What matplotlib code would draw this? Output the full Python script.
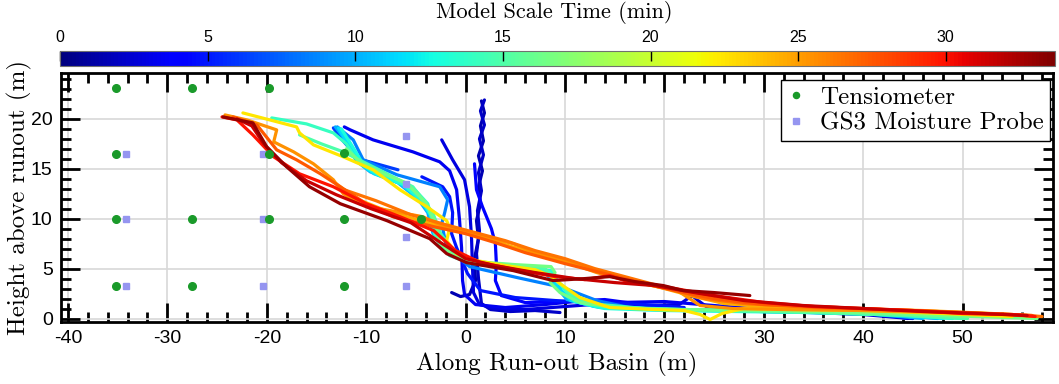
import numpy as np
import matplotlib
matplotlib.use("Agg")
import matplotlib.pyplot as plt
from matplotlib import colors, cm
from matplotlib.ticker import MultipleLocator

plt.rcParams['font.family'] = ['Liberation Sans', 'DejaVu Sans']
plt.rcParams['axes.unicode_minus'] = False

# surface profiles: time (min), x (m), height (m)
prof_time = [1.5, 2.2, 2.8, 3.4, 4.0, 5.0, 6.2, 8.5, 10.0, 11.5, 13.0, 14.0, 15.0, 16.5,
             22.5, 24.5, 25.5, 26.5, 27.5, 30.0, 31.5, 33.0]
prof_x = [
    [1.6, 1.9, 1.5, 1.8, 1.3, 1.7, 1.3, 1.5, 1.1, 1.3, 0.9, 1.0, 0.4, -0.5, -1.4],
    [1.9, 1.5, 1.9, 1.4, 1.8, 1.3, 1.6, 1.2, 1.4, 1.1, 1.3, 1.6, 2.5, 4.5, 7.0, 9.5],
    [-2.4, -1.3, -0.1, 0.4, 0.6, 0.7, 0.8, 1.4, 3.0, 6.0, 10.0, 14.0, 18.0, 21.5, 22.8, 23.4, 24.5, 27.0, 30.0, 35.0, 40.0, 43.5, 45.0],
    [-12.2, -11.6, -9.3, -5.3, -2.6, -1.6, -0.9, -0.6, -0.4, -0.3, -0.1, 1.0, 4.0, 8.0, 12.0, 15.0, 20.0, 25.0, 30.0, 36.0, 42.0, 44.5],
    [0.9, 1.1, 1.7, 2.6, 3.0, 3.1, 3.0, 3.6, 6.0, 10.0, 14.0, 17.0],
    [-4.4, -2.3, -1.6, -1.3, -1.4, -0.9, 0.2, 1.5, 5.0, 9.0, 13.0, 18.0, 22.0],
    [-13.3, -12.5, -11.0, -10.4, -6.8],
    [-12.9, -11.3, -10.3, -6.9, -2.6, -1.8, -2.1, -2.4, -1.9, 0.4, 5.2, 9.8, 13.2, 16.5, 22.0, 30.0, 38.0, 45.0, 47.5],
    [-13.1, -12.4, -11.0, -9.6, -6.8, -4.8, -3.8, -3.3, -2.2, 0.0, 4.8, 8.0, 8.6, 10.2, 13.0, 18.0, 25.0, 32.0, 40.0, 46.0],
    [-12.8, -12.0, -10.6, -9.2, -6.5, -4.5, -3.5, -3.1, -1.9, 0.3, 5.0, 8.3, 8.9, 10.6, 13.5, 19.0, 26.0, 34.0, 42.0, 48.0],
    [-12.5, -11.6, -10.2, -8.8, -6.2, -4.2, -3.3, -2.9, -1.6, 0.6, 5.4, 8.6, 9.2, 11.0, 14.0, 20.0, 27.0, 35.0, 43.0, 49.0],
    [-19.5, -16.0, -13.3, -12.0, -11.0, -9.5, -7.0, -5.0, -3.8, -3.4, -3.0, -1.5, 1.0, 5.0, 8.0, 9.0, 11.0, 14.0, 20.0, 28.0, 36.0, 44.0, 50.0],
    [-16.7, -14.5, -12.3, -9.3, -5.3, -3.3, -2.5, -1.0, 1.5, 5.0, 8.0, 9.0, 10.5, 12.5, 18.0, 25.0, 35.0, 45.0, 50.5],
    [-12.0, -10.5, -8.5, -6.0, -4.0, -3.0, -2.6, -1.2, 1.0, 5.0, 8.6, 9.0, 8.5, 9.5, 11.5, 15.0, 22.0, 30.0, 40.0, 48.0, 57.5],
    [-22.4, -17.0, -16.7, -15.3, -12.3, -9.3, -6.6, -3.9, -1.9, -1.6, -1.9, -0.9, 1.1, 4.0, 7.0, 8.5, 9.5, 11.5, 14.5, 19.0, 22.0, 23.6, 24.6, 25.8, 28.0, 33.0, 40.0, 48.0, 55.0],
    [-13.0, -11.0, -8.0, -4.5, 0.0, 4.0, 8.0, 12.0, 16.0, 20.0, 23.0, 26.0, 30.0, 38.0, 46.0, 53.0, 57.0],
    [-24.2, -22.0, -19.0, -19.3, -17.3, -15.3, -13.3, -12.3, -10.6, -8.6, -4.3, -1.9, 1.4, 4.8, 6.5, 9.8, 13.2, 17.2, 21.3, 23.6, 26.9, 32.0, 40.0, 48.0, 54.0, 57.5],
    [-12.5, -9.0, -5.5, -2.0, 1.0, 4.0, 7.0, 10.0, 13.0, 16.0, 19.0, 21.5, 24.0, 28.0, 35.0, 45.0, 55.0, 58.0],
    [-23.4, -21.0, -19.0, -17.0, -14.6, -12.6, -10.0, -7.3, -3.2, 0.0, 3.0, 6.0, 10.0, 14.0, 18.0, 21.0, 25.0, 30.0, 40.0, 50.0, 57.0],
    [-24.5, -23.0, -21.4, -19.3, -16.7, -13.3, -10.0, -6.6, -3.2, -1.0, 1.5, 5.0, 9.0, 12.0, 14.5, 16.0, 20.0, 25.0, 30.0, 35.0, 40.0, 45.0, 50.0, 55.0, 57.3],
    [-23.0, -21.5, -20.3, -18.5, -16.0, -13.0, -9.5, -5.5, -2.5, 0.0, 3.0, 7.0, 11.0, 15.0, 19.0, 23.0, 28.0, 34.0, 40.0, 46.0, 52.0, 56.5],
    [-24.4, -21.4, -20.0, -18.0, -15.7, -12.6, -7.9, -3.6, -1.9, 0.1, 4.8, 8.8, 12.0, 14.5, 17.0, 19.9, 21.9, 25.0, 28.6],
]
prof_y = [
    [21.8, 20.6, 19.3, 17.8, 16.3, 14.8, 13.2, 11.5, 9.8, 8.0, 6.0, 3.8, 2.4, 2.2, 2.6],
    [21.9, 20.8, 19.4, 18.0, 16.4, 14.6, 12.8, 10.8, 8.8, 6.5, 4.0, 1.5, 0.9, 0.7, 0.8, 0.6],
    [17.9, 15.9, 13.9, 11.2, 8.1, 5.1, 2.6, 1.4, 1.0, 0.9, 1.2, 1.5, 1.3, 1.4, 2.3, 1.8, 1.0, 0.8, 0.7, 0.6, 0.4, 0.1, 0.0],
    [19.2, 18.9, 17.9, 16.7, 15.7, 14.8, 12.9, 9.8, 7.1, 3.8, 2.4, 1.4, 1.1, 1.4, 1.8, 1.6, 1.7, 1.3, 0.9, 0.7, 0.4, 0.0],
    [15.5, 12.9, 11.2, 9.0, 7.5, 5.5, 3.8, 2.3, 1.6, 1.7, 1.9, 1.5],
    [14.2, 13.2, 12.2, 10.6, 8.5, 7.1, 4.5, 2.8, 2.1, 1.8, 1.6, 1.4, 1.1],
    [19.1, 18.0, 16.3, 15.9, 14.9],
    [19.2, 17.9, 15.9, 14.4, 13.2, 11.9, 10.6, 9.5, 7.1, 5.2, 4.1, 3.1, 1.8, 1.1, 0.9, 0.8, 0.6, 0.2, 0.0],
    [19.2, 18.3, 15.8, 14.7, 13.6, 12.0, 10.6, 8.6, 6.9, 5.8, 5.0, 4.7, 3.8, 1.9, 1.2, 0.9, 0.8, 0.7, 0.5, 0.0],
    [19.1, 17.8, 15.5, 14.5, 13.5, 11.8, 10.3, 8.2, 6.6, 5.6, 4.9, 4.6, 3.6, 1.8, 1.1, 0.9, 0.8, 0.6, 0.4, 0.0],
    [19.0, 17.6, 15.3, 14.4, 13.4, 11.6, 10.0, 7.9, 6.3, 5.5, 5.0, 4.8, 3.8, 1.7, 1.0, 0.8, 0.7, 0.6, 0.4, 0.0],
    [20.1, 19.5, 18.6, 17.5, 16.0, 15.0, 14.0, 12.8, 11.5, 10.0, 8.0, 6.5, 5.6, 5.0, 4.8, 4.0, 2.0, 1.2, 0.9, 0.8, 0.6, 0.3, 0.0],
    [18.4, 17.5, 16.7, 15.2, 13.2, 10.6, 8.5, 6.5, 5.6, 5.2, 5.0, 4.0, 2.5, 1.5, 1.0, 0.8, 0.6, 0.3, 0.0],
    [17.0, 15.6, 14.6, 13.6, 11.6, 9.5, 7.6, 6.3, 5.7, 5.4, 5.2, 4.6, 3.6, 2.6, 1.6, 1.1, 0.9, 0.8, 0.6, 0.3, 0.0],
    [20.6, 19.2, 18.6, 17.4, 16.2, 14.9, 12.9, 11.2, 9.8, 9.1, 7.8, 6.5, 5.8, 5.3, 4.9, 4.3, 3.5, 2.1, 1.1, 0.9, 0.8, 0.4, -0.1, 0.5, 1.0, 0.9, 0.8, 0.5, 0.2],
    [13.5, 12.0, 10.8, 9.8, 8.6, 7.4, 6.2, 5.2, 4.0, 3.0, 2.2, 1.5, 1.2, 1.0, 0.8, 0.5, 0.3],
    [20.4, 19.9, 18.9, 17.7, 16.7, 15.5, 13.9, 12.5, 11.5, 11.0, 10.2, 9.1, 8.3, 7.5, 6.8, 5.8, 4.6, 3.6, 2.8, 1.3, 1.0, 0.9, 0.8, 0.6, 0.4, 0.2],
    [13.0, 11.8, 10.4, 9.4, 8.6, 7.8, 6.8, 6.0, 5.0, 4.2, 3.4, 2.7, 2.0, 1.5, 1.1, 0.8, 0.4, 0.2],
    [20.2, 19.4, 16.9, 15.9, 14.5, 13.2, 11.5, 10.2, 9.2, 8.5, 7.6, 6.6, 5.5, 4.5, 3.5, 2.8, 2.0, 1.4, 1.0, 0.6, 0.3],
    [20.2, 19.9, 18.4, 16.2, 14.5, 13.2, 11.5, 10.2, 8.8, 6.8, 5.6, 4.9, 4.2, 3.9, 4.3, 3.8, 3.2, 2.3, 1.6, 1.2, 1.0, 0.8, 0.5, 0.4, 0.2],
    [20.0, 19.3, 17.5, 15.6, 13.8, 12.4, 11.0, 9.6, 7.6, 6.0, 5.3, 4.6, 4.0, 3.6, 3.3, 2.6, 1.8, 1.3, 1.0, 0.7, 0.5, 0.3],
    [20.2, 19.6, 17.2, 15.2, 13.2, 11.5, 9.8, 8.0, 6.5, 5.6, 4.8, 3.8, 4.0, 4.2, 3.7, 3.3, 2.8, 2.6, 2.3],
]

# sensor locations
tens_x = [-35.2, -27.5, -19.8, -35.2, -19.8, -12.2, -35.2, -27.5, -19.8, -12.2, -4.5, -35.2, -27.5, -12.2]
tens_y = [23.1, 23.1, 23.1, 16.5, 16.5, 16.6, 10.0, 10.0, 10.0, 10.0, 10.0, 3.3, 3.3, 3.3]
gs3_x = [-34.2, -34.2, -34.2, -20.4, -20.4, -20.4, -6.0, -6.0, -6.0, -6.0]
gs3_y = [16.5, 10.0, 3.3, 16.5, 10.0, 3.3, 18.3, 13.5, 8.2, 3.3]

t_max = 33.7
cmap = plt.get_cmap('jet')
norm = colors.Normalize(vmin=0, vmax=t_max)

fig = plt.figure(figsize=(10.59, 3.84), dpi=100)
ax = fig.add_axes([61/1059, 1 - 322/384, (1053 - 61)/1059, (322 - 73)/384])
cax = fig.add_axes([60/1059, 1 - 66/384, (1055 - 60)/1059, 15/384])

for t, xs, ys in zip(prof_time, prof_x, prof_y):
    ax.plot(xs, ys, color=cmap(norm(t)), lw=2.3, solid_capstyle='round', zorder=2)

ax.plot(tens_x, tens_y, 'o', color='#1a9a2a', ms=5.5, ls='none', label='Tensiometer', zorder=4)
ax.plot(gs3_x, gs3_y, 's', color='#9595f0', ms=5, ls='none', label='GS3 Moisture Probe', zorder=3)

ax.set_xlim(-40.7, 59.1)
ax.set_ylim(-0.35, 24.6)
ax.xaxis.set_major_locator(MultipleLocator(10))
ax.xaxis.set_minor_locator(MultipleLocator(2))
ax.yaxis.set_major_locator(MultipleLocator(5))
ax.yaxis.set_minor_locator(MultipleLocator(1))
ax.tick_params(which='both', direction='in', top=True, right=True, width=2, labelsize=14, pad=6)
ax.tick_params(which='major', length=14)
ax.tick_params(which='minor', length=7)
for s in ax.spines.values():
    s.set_linewidth(2)
ax.grid(True, which='major', color='#d8d8d8', lw=1.2)
ax.set_axisbelow(True)

ax.set_xlabel('Along Run-out Basin (m)', family='cmr10', fontsize=18, labelpad=3)
ax.set_ylabel('Height above runout (m)', family='cmr10', fontsize=18, labelpad=-1)

leg = ax.legend(loc='upper right', bbox_to_anchor=(1050/1059, 1 - 80/384),
                bbox_transform=fig.transFigure, borderaxespad=0,
                prop={'family': 'cmr10', 'size': 18}, fancybox=False,
                framealpha=1, edgecolor='black', handlelength=0.7,
                handletextpad=0.6, labelspacing=0.15, borderpad=0.25, markerscale=0.8)
leg.get_frame().set_linewidth(1)

sm = cm.ScalarMappable(norm=norm, cmap=cmap)
cb = fig.colorbar(sm, cax=cax, orientation='horizontal', ticks=[0, 5, 10, 15, 20, 25, 30])
cax.xaxis.set_ticks_position('top')
cax.xaxis.set_label_position('top')
cax.tick_params(direction='in', length=7, width=1, labelsize=11.5, pad=4)
cb.outline.set_edgecolor('#707070')
cb.outline.set_linewidth(0.8)
fig.text(554/1059, 1 - 12/384, 'Model Scale Time (min)', family='cmr10', fontsize=16,
         ha='center', va='center')

fig.savefig('out.png', dpi=100)
